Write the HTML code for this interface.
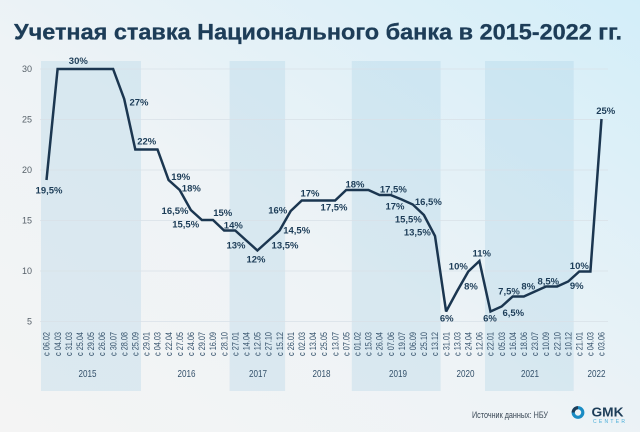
<!DOCTYPE html>
<html>
<head>
<meta charset="utf-8">
<style>
  html,body{margin:0;padding:0;}
  body{width:640px;height:432px;overflow:hidden;}
  svg{display:block;}
</style>
</head>
<body>
<svg width="640" height="432" viewBox="0 0 640 432" xmlns="http://www.w3.org/2000/svg">
  <defs>
    <linearGradient id="bg" x1="0" y1="1" x2="1" y2="0">
      <stop offset="0" stop-color="#f4f4f4"/>
      <stop offset="0.45" stop-color="#eef3f6"/>
      <stop offset="1" stop-color="#d3eef9"/>
    </linearGradient>
  </defs>
  <rect x="0" y="0" width="640" height="432" fill="url(#bg)"/>

  <!-- Title -->
  <text x="14" y="39.5" font-family="'Liberation Sans', sans-serif" font-weight="bold" font-size="22" fill="#1d3d58" stroke="#1d3d58" stroke-width="0.3" textLength="608" lengthAdjust="spacingAndGlyphs">Учетная ставка Национального банка в 2015-2022 гг.</text>

  <!-- Year bands -->
  <g fill="rgba(160,205,225,0.28)">
    <rect x="41" y="61" width="100" height="330"/>
    <rect x="229.6" y="61" width="55.5" height="330"/>
    <rect x="351.8" y="61" width="88.8" height="330"/>
    <rect x="485" y="61" width="88.7" height="330"/>
  </g>

  <!-- Gridlines -->
  <g stroke="#d9e1e7" stroke-width="0.8">
    <line x1="40" y1="69" x2="608" y2="69"/>
    <line x1="40" y1="119.5" x2="608" y2="119.5"/>
    <line x1="40" y1="170" x2="608" y2="170"/>
    <line x1="40" y1="220.5" x2="608" y2="220.5"/>
    <line x1="40" y1="271" x2="608" y2="271"/>
    <line x1="40" y1="321.5" x2="608" y2="321.5"/>
  </g>

  <!-- Y axis labels -->
  <g font-family="'Liberation Sans', sans-serif" font-size="9" fill="#555f68" text-anchor="end">
    <text x="32" y="72">30</text>
    <text x="32" y="122.5">25</text>
    <text x="32" y="173">20</text>
    <text x="32" y="223.5">15</text>
    <text x="32" y="274">10</text>
    <text x="32" y="324.5">5</text>
  </g>

  <!-- Series line -->
  <polyline fill="none" stroke="#1b3650" stroke-width="2.5" stroke-linejoin="miter" stroke-miterlimit="3"
    points="46.5,180 57.6,69 68.7,69 79.8,69 90.9,69 102,69 113.1,69 124.2,99 135.3,149.5 146.4,149.5 157.5,149.5 168.6,180 179.7,190 190.8,210 201.9,220 213,220 224.1,230.5 235.2,230.5 246.3,240.5 257.4,250.5 268.5,240.5 279.6,230.5 290.7,211 301.8,200.5 312.9,200.5 324,200.5 335.1,200.5 346.2,190 357.3,190 368.4,190 379.5,195 390.6,195 401.7,199.5 412.8,204.5 423.9,215 435,236 446.1,311.5 457.2,291 468.3,271.5 479.4,261 490.5,311.5 501.6,306.5 512.7,296.5 523.8,296.5 534.9,291.5 546,286.5 557.1,286.5 568.2,281.5 579.3,271.5 590.4,271.5 601.5,119"/>

  <!-- Data labels -->
  <g font-family="'Liberation Sans', sans-serif" font-weight="bold" font-size="9.5" fill="#1d3d58" text-anchor="middle">
    <text x="49" y="193.4">19,5%</text>
    <text x="78.3" y="64.1">30%</text>
    <text x="139" y="105.7">27%</text>
    <text x="146.7" y="144.4">22%</text>
    <text x="180.7" y="180.1">19%</text>
    <text x="191.3" y="191.7">18%</text>
    <text x="175" y="214.1">16,5%</text>
    <text x="185.7" y="227.4">15,5%</text>
    <text x="222.7" y="216.1">15%</text>
    <text x="233.3" y="228.4">14%</text>
    <text x="236" y="248.4">13%</text>
    <text x="256" y="262.7">12%</text>
    <text x="285" y="248.4">13,5%</text>
    <text x="296.7" y="233.4">14,5%</text>
    <text x="277.7" y="213.4">16%</text>
    <text x="310" y="196.7">17%</text>
    <text x="334" y="210.7">17,5%</text>
    <text x="355" y="187.4">18%</text>
    <text x="393.3" y="192.7">17,5%</text>
    <text x="395" y="209.4">17%</text>
    <text x="428.3" y="205.1">16,5%</text>
    <text x="408.3" y="222.7">15,5%</text>
    <text x="417.3" y="235.7">13,5%</text>
    <text x="458.3" y="269.4">10%</text>
    <text x="471" y="289.4">8%</text>
    <text x="446.7" y="321.7">6%</text>
    <text x="481.7" y="256.7">11%</text>
    <text x="490" y="321.7">6%</text>
    <text x="513.3" y="316.1">6,5%</text>
    <text x="509" y="294.4">7,5%</text>
    <text x="528.3" y="289.4">8%</text>
    <text x="548.3" y="284.4">8,5%</text>
    <text x="579.3" y="269.1">10%</text>
    <text x="576.7" y="289.1">9%</text>
    <text x="605.7" y="114.1">25%</text>
  </g>

  <!-- X tick labels (rotated) -->
  <g font-family="'Liberation Sans', sans-serif" font-size="9" fill="#33506a">
    <text transform="translate(46.5,356) rotate(-90)" dy="0.35em" textLength="24" lengthAdjust="spacingAndGlyphs">с 06.02</text>
    <text transform="translate(57.6,356) rotate(-90)" dy="0.35em" textLength="24" lengthAdjust="spacingAndGlyphs">с 04.03</text>
    <text transform="translate(68.7,356) rotate(-90)" dy="0.35em" textLength="24" lengthAdjust="spacingAndGlyphs">с 31.03</text>
    <text transform="translate(79.8,356) rotate(-90)" dy="0.35em" textLength="24" lengthAdjust="spacingAndGlyphs">с 25.04</text>
    <text transform="translate(90.9,356) rotate(-90)" dy="0.35em" textLength="24" lengthAdjust="spacingAndGlyphs">с 29.05</text>
    <text transform="translate(102,356) rotate(-90)" dy="0.35em" textLength="24" lengthAdjust="spacingAndGlyphs">с 26.06</text>
    <text transform="translate(113.1,356) rotate(-90)" dy="0.35em" textLength="24" lengthAdjust="spacingAndGlyphs">с 30.07</text>
    <text transform="translate(124.2,356) rotate(-90)" dy="0.35em" textLength="24" lengthAdjust="spacingAndGlyphs">с 28.08</text>
    <text transform="translate(135.3,356) rotate(-90)" dy="0.35em" textLength="24" lengthAdjust="spacingAndGlyphs">с 25.09</text>
    <text transform="translate(146.4,356) rotate(-90)" dy="0.35em" textLength="24" lengthAdjust="spacingAndGlyphs">с 29.01</text>
    <text transform="translate(157.5,356) rotate(-90)" dy="0.35em" textLength="24" lengthAdjust="spacingAndGlyphs">с 04.03</text>
    <text transform="translate(168.6,356) rotate(-90)" dy="0.35em" textLength="24" lengthAdjust="spacingAndGlyphs">с 22.04</text>
    <text transform="translate(179.7,356) rotate(-90)" dy="0.35em" textLength="24" lengthAdjust="spacingAndGlyphs">с 27.05</text>
    <text transform="translate(190.8,356) rotate(-90)" dy="0.35em" textLength="24" lengthAdjust="spacingAndGlyphs">с 24.06</text>
    <text transform="translate(201.9,356) rotate(-90)" dy="0.35em" textLength="24" lengthAdjust="spacingAndGlyphs">с 29.07</text>
    <text transform="translate(213,356) rotate(-90)" dy="0.35em" textLength="24" lengthAdjust="spacingAndGlyphs">с 16.09</text>
    <text transform="translate(224.1,356) rotate(-90)" dy="0.35em" textLength="24" lengthAdjust="spacingAndGlyphs">с 28.10</text>
    <text transform="translate(235.2,356) rotate(-90)" dy="0.35em" textLength="24" lengthAdjust="spacingAndGlyphs">с 27.01</text>
    <text transform="translate(246.3,356) rotate(-90)" dy="0.35em" textLength="24" lengthAdjust="spacingAndGlyphs">с 14.04</text>
    <text transform="translate(257.4,356) rotate(-90)" dy="0.35em" textLength="24" lengthAdjust="spacingAndGlyphs">с 12.05</text>
    <text transform="translate(268.5,356) rotate(-90)" dy="0.35em" textLength="24" lengthAdjust="spacingAndGlyphs">с 27.10</text>
    <text transform="translate(279.6,356) rotate(-90)" dy="0.35em" textLength="24" lengthAdjust="spacingAndGlyphs">с 15.12</text>
    <text transform="translate(290.7,356) rotate(-90)" dy="0.35em" textLength="24" lengthAdjust="spacingAndGlyphs">с 26.01</text>
    <text transform="translate(301.8,356) rotate(-90)" dy="0.35em" textLength="24" lengthAdjust="spacingAndGlyphs">с 02.03</text>
    <text transform="translate(312.9,356) rotate(-90)" dy="0.35em" textLength="24" lengthAdjust="spacingAndGlyphs">с 13.04</text>
    <text transform="translate(324,356) rotate(-90)" dy="0.35em" textLength="24" lengthAdjust="spacingAndGlyphs">с 25.05</text>
    <text transform="translate(335.1,356) rotate(-90)" dy="0.35em" textLength="24" lengthAdjust="spacingAndGlyphs">с 13.07</text>
    <text transform="translate(346.2,356) rotate(-90)" dy="0.35em" textLength="24" lengthAdjust="spacingAndGlyphs">с 07.05</text>
    <text transform="translate(357.3,356) rotate(-90)" dy="0.35em" textLength="24" lengthAdjust="spacingAndGlyphs">с 01.02</text>
    <text transform="translate(368.4,356) rotate(-90)" dy="0.35em" textLength="24" lengthAdjust="spacingAndGlyphs">с 15.03</text>
    <text transform="translate(379.5,356) rotate(-90)" dy="0.35em" textLength="24" lengthAdjust="spacingAndGlyphs">с 26.04</text>
    <text transform="translate(390.6,356) rotate(-90)" dy="0.35em" textLength="24" lengthAdjust="spacingAndGlyphs">с 07.06</text>
    <text transform="translate(401.7,356) rotate(-90)" dy="0.35em" textLength="24" lengthAdjust="spacingAndGlyphs">с 19.07</text>
    <text transform="translate(412.8,356) rotate(-90)" dy="0.35em" textLength="24" lengthAdjust="spacingAndGlyphs">с 06.09</text>
    <text transform="translate(423.9,356) rotate(-90)" dy="0.35em" textLength="24" lengthAdjust="spacingAndGlyphs">с 25.10</text>
    <text transform="translate(435,356) rotate(-90)" dy="0.35em" textLength="24" lengthAdjust="spacingAndGlyphs">с 13.12</text>
    <text transform="translate(446.1,356) rotate(-90)" dy="0.35em" textLength="24" lengthAdjust="spacingAndGlyphs">с 31.01</text>
    <text transform="translate(457.2,356) rotate(-90)" dy="0.35em" textLength="24" lengthAdjust="spacingAndGlyphs">с 13.03</text>
    <text transform="translate(468.3,356) rotate(-90)" dy="0.35em" textLength="24" lengthAdjust="spacingAndGlyphs">с 24.04</text>
    <text transform="translate(479.4,356) rotate(-90)" dy="0.35em" textLength="24" lengthAdjust="spacingAndGlyphs">с 12.06</text>
    <text transform="translate(490.5,356) rotate(-90)" dy="0.35em" textLength="24" lengthAdjust="spacingAndGlyphs">с 22.01</text>
    <text transform="translate(501.6,356) rotate(-90)" dy="0.35em" textLength="24" lengthAdjust="spacingAndGlyphs">с 05.03</text>
    <text transform="translate(512.7,356) rotate(-90)" dy="0.35em" textLength="24" lengthAdjust="spacingAndGlyphs">с 16.04</text>
    <text transform="translate(523.8,356) rotate(-90)" dy="0.35em" textLength="24" lengthAdjust="spacingAndGlyphs">с 18.06</text>
    <text transform="translate(534.9,356) rotate(-90)" dy="0.35em" textLength="24" lengthAdjust="spacingAndGlyphs">с 23.07</text>
    <text transform="translate(546,356) rotate(-90)" dy="0.35em" textLength="24" lengthAdjust="spacingAndGlyphs">с 10.09</text>
    <text transform="translate(557.1,356) rotate(-90)" dy="0.35em" textLength="24" lengthAdjust="spacingAndGlyphs">с 22.10</text>
    <text transform="translate(568.2,356) rotate(-90)" dy="0.35em" textLength="24" lengthAdjust="spacingAndGlyphs">с 10.12</text>
    <text transform="translate(579.3,356) rotate(-90)" dy="0.35em" textLength="24" lengthAdjust="spacingAndGlyphs">с 21.01</text>
    <text transform="translate(590.4,356) rotate(-90)" dy="0.35em" textLength="24" lengthAdjust="spacingAndGlyphs">с 04.03</text>
    <text transform="translate(601.5,356) rotate(-90)" dy="0.35em" textLength="24" lengthAdjust="spacingAndGlyphs">с 03.06</text>
  </g>

  <!-- Year labels -->
  <g font-family="'Liberation Sans', sans-serif" font-size="10.5" fill="#33506a" text-anchor="middle">
    <text x="87.5" y="377" textLength="18" lengthAdjust="spacingAndGlyphs">2015</text>
    <text x="186.5" y="377" textLength="18" lengthAdjust="spacingAndGlyphs">2016</text>
    <text x="258" y="377" textLength="18" lengthAdjust="spacingAndGlyphs">2017</text>
    <text x="321.5" y="377" textLength="18" lengthAdjust="spacingAndGlyphs">2018</text>
    <text x="398" y="377" textLength="18" lengthAdjust="spacingAndGlyphs">2019</text>
    <text x="465.5" y="377" textLength="18" lengthAdjust="spacingAndGlyphs">2020</text>
    <text x="530" y="377" textLength="18" lengthAdjust="spacingAndGlyphs">2021</text>
    <text x="596.5" y="377" textLength="18" lengthAdjust="spacingAndGlyphs">2022</text>
  </g>

  <!-- Source -->
  <text x="472" y="418" font-family="'Liberation Sans', sans-serif" font-size="9.5" fill="#3a4856" textLength="76" lengthAdjust="spacingAndGlyphs">Источник данных: НБУ</text>

  <!-- GMK logo -->
  <circle cx="578" cy="412.5" r="4.8" fill="none" stroke="#1a8cc4" stroke-width="3.2"/>
  <path d="M573.2,412.5 A4.8,4.8 0 0 1 578,407.7" fill="none" stroke="#1d3d58" stroke-width="3.2"/>
  <text x="591.5" y="416.5" font-family="'Liberation Sans', sans-serif" font-weight="bold" font-size="12.5" fill="#1d3d58" textLength="32" lengthAdjust="spacingAndGlyphs">GMK</text>
  <text x="593" y="423" font-family="'Liberation Sans', sans-serif" font-size="5" fill="#4aaed8" textLength="32" lengthAdjust="spacing">CENTER</text>
</svg>
</body>
</html>
